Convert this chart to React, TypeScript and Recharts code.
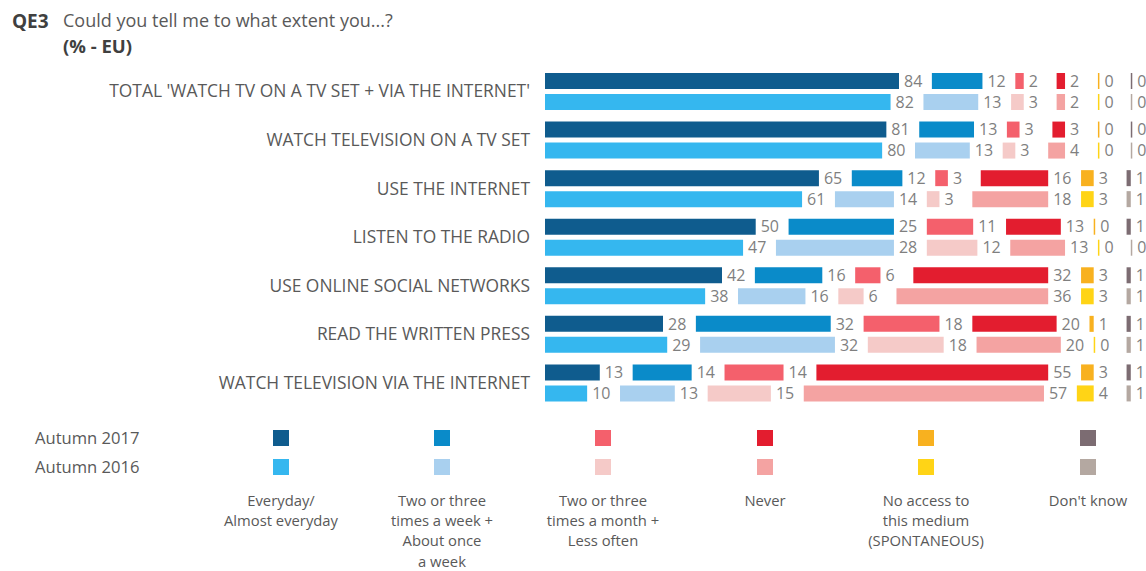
import React from "react";
import { BarChart, Bar, XAxis, YAxis, LabelList } from "recharts";

const media = [
  "TOTAL 'WATCH TV ON A TV SET + VIA THE INTERNET'",
  "WATCH TELEVISION ON A TV SET",
  "USE THE INTERNET",
  "LISTEN TO THE RADIO",
  "USE ONLINE SOCIAL NETWORKS",
  "READ THE WRITTEN PRESS",
  "WATCH TELEVISION VIA THE INTERNET",
];

// Autumn 2017
const everyday2017 = [84, 81, 65, 50, 42, 28, 13];
const week2017 = [12, 13, 12, 25, 16, 32, 14];
const month2017 = [2, 3, 3, 11, 6, 18, 14];
const never2017 = [2, 3, 16, 13, 32, 20, 55];
const noAccess2017 = [0, 0, 3, 0, 3, 1, 3];
const dontKnow2017 = [0, 0, 1, 1, 1, 1, 1];

// Autumn 2016
const everyday2016 = [82, 80, 61, 47, 38, 29, 10];
const week2016 = [13, 13, 14, 28, 16, 32, 13];
const month2016 = [3, 3, 3, 12, 6, 18, 15];
const never2016 = [2, 4, 18, 13, 36, 20, 57];
const noAccess2016 = [0, 0, 3, 0, 3, 0, 4];
const dontKnow2016 = [0, 0, 1, 0, 1, 1, 1];

const waves = ["Autumn 2017", "Autumn 2016"];
const answers = [
  ["Everyday/", "Almost everyday"],
  ["Two or three", "times a week +", "About once", "a week"],
  ["Two or three", "times a month +", "Less often"],
  ["Never"],
  ["No access to", "this medium", "(SPONTANEOUS)"],
  ["Don't know"],
];

const colors2017 = ["#0f5c8e", "#0a8bc9", "#f4606c", "#e31d2f", "#f8b11f", "#7c6c72"];
const colors2016 = ["#35b7ef", "#a9d0ef", "#f5cac8", "#f4a3a2", "#ffd416", "#b4a8a1"];

const series2017 = [everyday2017, week2017, month2017, never2017, noAccess2017, dontKnow2017];
const series2016 = [everyday2016, week2016, month2016, never2016, noAccess2016, dontKnow2016];

// empty space between answer blocks, room for the value labels
const GAP = 7.8;

const rows = media.map((m, i) => {
  const r: Record<string, any> = { media: m };
  series2017.forEach((s, k) => {
    r[`a${k}`] = s[i];
    r[`ag${k}`] = GAP;
  });
  series2016.forEach((s, k) => {
    r[`b${k}`] = s[i];
    r[`bg${k}`] = GAP;
  });
  return r;
});

const FONT = "'Open Sans', sans-serif";
const TEXT = "#595959";
const LEGEND_X = [281, 442, 603, 765, 926, 1088];

const makeBars = (prefix: string, stack: string, colors: string[]) => {
  const out: React.ReactNode[] = [];
  colors.forEach((c, k) => {
    out.push(
      <Bar
        key={`${prefix}${k}`}
        dataKey={`${prefix}${k}`}
        stackId={stack}
        fill={c}
        minPointSize={1.5}
        isAnimationActive={false}
      >
        <LabelList
          dataKey={`${prefix}${k}`}
          position="right"
          offset={5}
          fill="#7f7f7f"
          fontSize={16}
          fontFamily={FONT}
        />
      </Bar>
    );
    if (k < colors.length - 1) {
      out.push(
        <Bar
          key={`${prefix}g${k}`}
          dataKey={`${prefix}g${k}`}
          stackId={stack}
          fill="transparent"
          isAnimationActive={false}
        />
      );
    }
  });
  return out;
};

export default function App() {
  return (
    <div
      style={{
        position: "absolute",
        left: 0,
        top: 0,
        width: 1146,
        height: 571,
        background: "#fff",
        fontFamily: FONT,
        color: TEXT,
        overflow: "hidden",
      }}
    >
      <div style={{ position: "absolute", left: 12, top: 8, fontSize: 19, fontWeight: 700, color: "#404040" }}>
        QE3
      </div>
      <div style={{ position: "absolute", left: 63, top: 8, fontSize: 18 }}>
        Could you tell me to what extent you...?
      </div>
      <div style={{ position: "absolute", left: 63, top: 33, fontSize: 18.5, fontWeight: 700, color: "#404040" }}>
        (% - EU)
      </div>

      <div style={{ position: "absolute", left: 0, top: 0 }}>
        <BarChart
          width={1146}
          height={420}
          data={rows}
          layout="vertical"
          barSize={16}
          barGap={5}
          margin={{ top: 67, right: 11, bottom: 13, left: 0 }}
        >
          <XAxis type="number" domain={[0, 140]} hide allowDataOverflow />
          <YAxis
            type="category"
            dataKey="media"
            width={545}
            axisLine={false}
            tickLine={false}
            tickSize={0}
            tickMargin={15}
            tick={{ fill: TEXT, fontSize: 17.4, fontFamily: FONT }}
          />
          {makeBars("a", "y2017", colors2017)}
          {makeBars("b", "y2016", colors2016)}
        </BarChart>
      </div>

      {waves.map((w, j) => (
        <div
          key={w}
          style={{ position: "absolute", left: 35, top: 427 + j * 29, fontSize: 16.6, lineHeight: "22px" }}
        >
          {w}
        </div>
      ))}
      {LEGEND_X.map((x, k) => (
        <React.Fragment key={k}>
          <div
            style={{ position: "absolute", left: x - 8, top: 430, width: 16, height: 16, background: colors2017[k] }}
          />
          <div
            style={{ position: "absolute", left: x - 8, top: 459, width: 16, height: 16, background: colors2016[k] }}
          />
          <div
            style={{
              position: "absolute",
              left: x - 85,
              width: 170,
              top: 490,
              textAlign: "center",
              fontSize: 14.8,
              lineHeight: "20.2px",
            }}
          >
            {answers[k].map((line) => (
              <div key={line}>{line}</div>
            ))}
          </div>
        </React.Fragment>
      ))}
    </div>
  );
}
